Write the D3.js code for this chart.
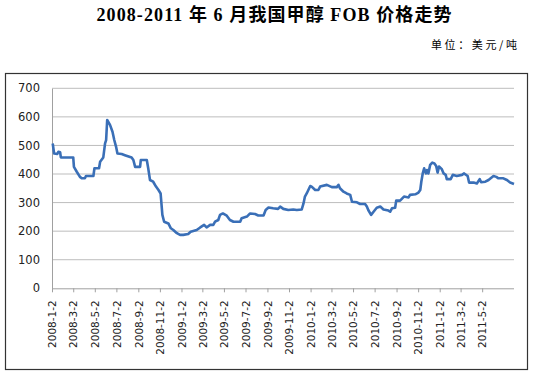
<!DOCTYPE html>
<html><head><meta charset="utf-8">
<script src="https://cdn.jsdelivr.net/npm/d3@7"></script>
<style>body{margin:0;background:#fff;}</style>
</head><body>
<svg id="c" width="533" height="377"></svg>
<script>
const title = "2008-2011 年 6 月我国甲醇 FOB 价格走势";
const unitLabel = "单位：美元/吨";
const dates = ["2008-01-04","2008-01-08","2008-01-17","2008-01-20","2008-01-25","2008-01-27","2008-03-02","2008-03-04","2008-03-12","2008-03-21","2008-03-26","2008-04-04","2008-04-07","2008-04-28","2008-05-01","2008-05-14","2008-05-17","2008-05-26","2008-05-31","2008-06-03","2008-06-06","2008-06-14","2008-06-21","2008-06-26","2008-07-01","2008-07-05","2008-07-17","2008-07-26","2008-08-14","2008-08-19","2008-08-24","2008-09-07","2008-09-09","2008-09-26","2008-09-30","2008-10-05","2008-10-14","2008-10-22","2008-10-29","2008-11-04","2008-11-09","2008-11-14","2008-11-26","2008-12-03","2008-12-10","2008-12-20","2008-12-29","2009-01-07","2009-01-21","2009-01-28","2009-02-14","2009-02-24","2009-03-07","2009-03-14","2009-03-24","2009-04-02","2009-04-07","2009-04-16","2009-04-21","2009-04-29","2009-05-10","2009-05-19","2009-05-29","2009-06-17","2009-06-21","2009-07-06","2009-07-15","2009-07-29","2009-08-07","2009-08-22","2009-08-28","2009-09-05","2009-09-18","2009-10-02","2009-10-08","2009-10-17","2009-10-31","2009-11-14","2009-11-24","2009-12-08","2009-12-13","2009-12-17","2009-12-22","2010-01-01","2010-01-05","2010-01-15","2010-01-24","2010-01-29","2010-02-17","2010-03-03","2010-03-17","2010-03-22","2010-03-26","2010-04-05","2010-04-14","2010-04-24","2010-04-29","2010-05-13","2010-05-22","2010-06-05","2010-06-10","2010-06-14","2010-06-22","2010-06-29","2010-07-08","2010-07-18","2010-07-27","2010-08-10","2010-08-15","2010-08-20","2010-08-29","2010-09-01","2010-09-12","2010-09-23","2010-10-06","2010-10-10","2010-10-25","2010-11-03","2010-11-08","2010-11-11","2010-11-15","2010-11-19","2010-11-24","2010-11-27","2010-12-01","2010-12-06","2010-12-12","2010-12-18","2010-12-23","2010-12-27","2010-12-31","2011-01-08","2011-01-13","2011-01-19","2011-01-22","2011-02-02","2011-02-08","2011-02-19","2011-03-06","2011-03-12","2011-03-22","2011-03-26","2011-04-08","2011-04-17","2011-04-25","2011-04-29","2011-05-11","2011-05-20","2011-06-03","2011-06-11","2011-06-17","2011-07-01","2011-07-11","2011-07-20","2011-07-31"];
const prices = [507,472,470,478,476,458,458,425,408,390,385,385,393,393,420,420,443,458,507,519,589,572,548,519,496,472,470,466,458,449,425,425,449,449,420,379,373,356,344,332,257,233,227,210,204,193,187,187,190,198,204,213,222,213,222,222,233,239,257,262,254,239,233,233,245,251,262,260,255,255,274,283,280,278,286,278,274,276,274,276,297,321,332,358,356,344,344,356,362,354,354,362,350,338,332,327,303,301,295,295,286,274,257,268,282,286,276,272,268,280,282,307,307,321,318,327,329,335,344,373,402,420,402,414,402,432,440,437,428,405,426,417,402,397,382,382,397,393,397,402,393,370,370,367,382,371,373,379,393,390,385,385,379,370,365];
const tickLabels = ["2008-1-2","2008-3-2","2008-5-2","2008-7-2","2008-9-2","2008-11-2","2009-1-2","2009-3-2","2009-5-2","2009-7-2","2009-9-2","2009-11-2","2010-1-2","2010-3-2","2010-5-2","2010-7-2","2010-9-2","2010-11-2","2011-1-2","2011-3-2","2011-5-2"];
const yTicks = [0,100,200,300,400,500,600,700];
const domainStart = "2008-01-02", domainEnd = "2011-07-31";

const parse = d3.timeParse("%Y-%m-%d");
const data = dates.map((d,i)=>({date:parse(d), v:prices[i]}));
const svg = d3.select("#c");

const L = 52, R = 514, T = 88.3, B = 288.3;
const x = d3.scaleTime().domain([parse(domainStart), parse(domainEnd)]).range([L, R]);
const y = d3.scaleLinear().domain([0,700]).range([B, T]);

svg.append("text").attr("x",96.5).attr("y",20.5).attr("text-anchor","start")
  .attr("textLength",355).attr("lengthAdjust","spacing")
  .attr("font-family","'Liberation Serif','Noto Sans CJK SC',serif").attr("font-weight","600")
  .attr("font-size",18).attr("fill","#000").text(title);
svg.append("text").attr("x",431).attr("y",49).attr("text-anchor","start")
  .attr("textLength",86).attr("lengthAdjust","spacing")
  .attr("font-family","'Noto Sans CJK SC',sans-serif").attr("font-size",11).attr("fill","#000").text(unitLabel);

svg.append("rect").attr("x",5.5).attr("y",73.5).attr("width",522).attr("height",296)
  .attr("fill","none").attr("stroke","#333").attr("stroke-width",1.2);

// gridlines
svg.append("g").selectAll("line").data(yTicks.filter(d=>d>0)).join("line")
  .attr("x1",L).attr("x2",R).attr("y1",d=>y(d)).attr("y2",d=>y(d))
  .attr("stroke","#bdbdbd").attr("stroke-width",1);

// y axis
const ya = svg.append("g").attr("transform",`translate(${L},0)`)
  .call(d3.axisLeft(y).tickValues(yTicks).tickSize(0).tickPadding(12));
ya.select(".domain").attr("stroke","#a0a0a0");
ya.selectAll("text").attr("font-family","'DejaVu Sans',sans-serif").attr("font-size",11.5).attr("fill","#222");

// x axis
const tickDates = tickLabels.map(parse);
const xa = svg.append("g").attr("transform",`translate(0,${B})`)
  .call(d3.axisBottom(x).tickValues(tickDates).tickSize(4).tickFormat(d3.timeFormat("%Y-%-m-%-d")));
xa.select(".domain").attr("stroke","#a0a0a0").attr("d",`M${L},0.5H${R}`);
xa.selectAll(".tick line").attr("stroke","#a0a0a0");
xa.selectAll("text").attr("font-family","'DejaVu Sans',sans-serif").attr("font-size",10.5).attr("fill","#222")
  .attr("transform","rotate(-90)").attr("text-anchor","end").attr("x",-12).attr("y",0).attr("dy","0.35em");

// line
svg.append("path").datum(data)
  .attr("fill","none").attr("stroke","#3a6fb7").attr("stroke-width",2.6).attr("stroke-linejoin","round")
  .attr("d", d3.line().x(d=>x(d.date)).y(d=>y(d.v)));
</script>
</body></html>
